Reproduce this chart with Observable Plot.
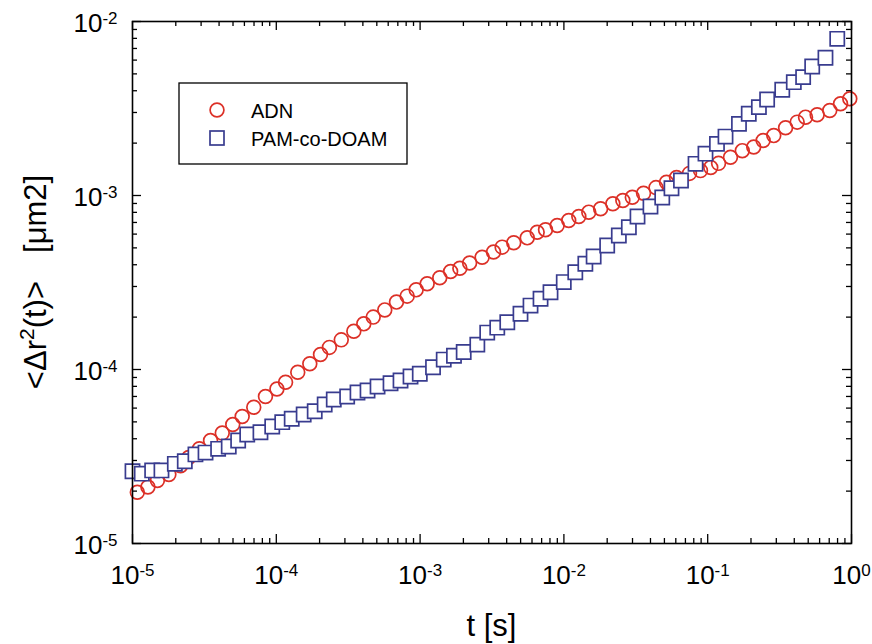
<!DOCTYPE html>
<html>
<head>
<meta charset="utf-8">
<script src="https://cdn.jsdelivr.net/npm/d3@7"></script>
<script src="https://cdn.jsdelivr.net/npm/@observablehq/plot@0.6"></script>
<style>
  html, body { margin: 0; padding: 0; background: #fff; }
  #chart { position: relative; width: 872px; height: 644px; }
</style>
</head>
<body>
<div id="chart"></div>
<script>
// ---- data ----
const adnT = [1.08e-5,1.28e-5,1.49e-5,1.79e-5,2.16e-5,2.46e-5,2.92e-5,3.49e-5,4.21e-5,4.98e-5,5.79e-5,6.97e-5,8.41e-5,1.01e-4,1.16e-4,1.41e-4,1.71e-4,2.03e-4,2.34e-4,2.83e-4,3.46e-4,4.06e-4,4.72e-4,5.68e-4,6.85e-4,8.13e-4,9.39e-4,1.12e-3,1.37e-3,1.63e-3,1.89e-3,2.21e-3,2.70e-3,3.24e-3,3.72e-3,4.48e-3,5.56e-3,6.52e-3,7.45e-3,8.98e-3,1.08e-2,1.27e-2,1.49e-2,1.80e-2,2.19e-2,2.57e-2,2.99e-2,3.58e-2,4.37e-2,5.17e-2,6.07e-2,7.47e-2,8.91e-2,0.105,0.119,0.144,0.174,0.209,0.243,0.288,0.348,0.419,0.479,0.577,0.706,0.839,0.973];
const adnMsd = [1.97e-5,2.11e-5,2.30e-5,2.49e-5,2.80e-5,3.12e-5,3.50e-5,3.91e-5,4.31e-5,4.83e-5,5.37e-5,6.07e-5,7.00e-5,7.73e-5,8.45e-5,9.65e-5,1.08e-4,1.22e-4,1.34e-4,1.48e-4,1.66e-4,1.83e-4,2.00e-4,2.20e-4,2.44e-4,2.64e-4,2.87e-4,3.11e-4,3.37e-4,3.66e-4,3.82e-4,4.09e-4,4.42e-4,4.73e-4,5.05e-4,5.35e-4,5.71e-4,6.15e-4,6.35e-4,6.73e-4,7.18e-4,7.57e-4,8.02e-4,8.39e-4,8.96e-4,9.36e-4,9.78e-4,1.03e-3,1.11e-3,1.19e-3,1.27e-3,1.34e-3,1.39e-3,1.45e-3,1.53e-3,1.66e-3,1.81e-3,1.90e-3,2.07e-3,2.21e-3,2.45e-3,2.64e-3,2.82e-3,2.91e-3,3.08e-3,3.37e-3,3.60e-3];
const pamT = [1.00e-5,1.16e-5,1.37e-5,1.59e-5,1.97e-5,2.31e-5,2.74e-5,3.22e-5,3.94e-5,4.67e-5,5.43e-5,6.28e-5,7.76e-5,9.37e-5,1.10e-4,1.28e-4,1.55e-4,1.85e-4,2.17e-4,2.51e-4,3.11e-4,3.67e-4,4.31e-4,5.06e-4,6.23e-4,7.31e-4,8.58e-4,9.95e-4,1.23e-3,1.46e-3,1.72e-3,2.01e-3,2.50e-3,2.93e-3,3.44e-3,4.04e-3,4.99e-3,5.86e-3,6.88e-3,8.07e-3,9.98e-3,1.20e-2,1.41e-2,1.61e-2,2.00e-2,2.41e-2,2.83e-2,3.25e-2,4.00e-2,4.83e-2,5.60e-2,6.52e-2,8.23e-2,9.65e-2,0.116,0.133,0.165,0.193,0.227,0.259,0.330,0.397,0.461,0.533,0.659,0.796];
const pamMsd = [2.60e-5,2.52e-5,2.63e-5,2.63e-5,2.87e-5,2.97e-5,3.25e-5,3.33e-5,3.50e-5,3.61e-5,3.91e-5,4.23e-5,4.36e-5,4.70e-5,4.98e-5,5.21e-5,5.51e-5,5.76e-5,6.29e-5,6.72e-5,7.00e-5,7.38e-5,7.57e-5,7.99e-5,8.34e-5,8.65e-5,9.12e-5,9.45e-5,1.03e-4,1.14e-4,1.20e-4,1.26e-4,1.39e-4,1.63e-4,1.74e-4,1.87e-4,2.09e-4,2.33e-4,2.55e-4,2.78e-4,3.18e-4,3.62e-4,4.05e-4,4.46e-4,5.16e-4,5.89e-4,6.57e-4,7.57e-4,8.65e-4,9.74e-4,1.10e-3,1.22e-3,1.52e-3,1.74e-3,1.98e-3,2.18e-3,2.58e-3,2.95e-3,3.22e-3,3.56e-3,4.05e-3,4.48e-3,4.79e-3,5.51e-3,6.19e-3,7.95e-3];

const seriesNames = ["ADN", "PAM-co-DOAM"];
const xMajor = [1e-5, 1e-4, 1e-3, 1e-2, 1e-1, 1e0];
const yMajor = [1e-5, 1e-4, 1e-3, 1e-2];
const minorMantissas = [2, 3, 4, 5, 6, 7, 8, 9];
const xLabel = "t [s]";

// ---- build tables ----
const adn = adnT.map((t, i) => ({t, msd: adnMsd[i]}));
const pam = pamT.map((t, i) => ({t, msd: pamMsd[i]}));
const xMinor = xMajor.slice(0, -1).flatMap(d => minorMantissas.map(m => m * d));
const yMinor = yMajor.slice(0, -1).flatMap(d => minorMantissas.map(m => m * d));

const W = 872, H = 644, mL = 132, mR = 21, mT = 21, mB = 101;
const fw = W - mL - mR, fh = H - mT - mB;
const RED = "#dc3027", BLUE = "#393c8f";
const FONT = "'Liberation Sans', Arial, Helvetica, sans-serif";
const majLen = 9, minLen = 5;
const fmt = d => "10^" + Math.round(Math.log10(d));
const tk = {stroke: "black", strokeWidth: 1.3};

const plot = Plot.plot({
  width: W, height: H,
  marginLeft: mL, marginRight: mR, marginTop: mT, marginBottom: mB,
  x: {type: "log", domain: [1e-5, 1]},
  y: {type: "log", domain: [1e-5, 1e-2]},
  style: {fontFamily: FONT, background: "white", color: "black", overflow: "visible"},
  marks: [
    // inward ticks on all four sides
    Plot.ruleX(xMajor, {x: d => d, insetTop: fh - majLen, ...tk}),
    Plot.ruleX(xMajor, {x: d => d, insetBottom: fh - majLen, ...tk}),
    Plot.ruleX(xMinor, {x: d => d, insetTop: fh - minLen, ...tk}),
    Plot.ruleX(xMinor, {x: d => d, insetBottom: fh - minLen, ...tk}),
    Plot.ruleY(yMajor, {y: d => d, insetRight: fw - majLen, ...tk}),
    Plot.ruleY(yMajor, {y: d => d, insetLeft: fw - majLen, ...tk}),
    Plot.ruleY(yMinor, {y: d => d, insetRight: fw - minLen, ...tk}),
    Plot.ruleY(yMinor, {y: d => d, insetLeft: fw - minLen, ...tk}),
    Plot.axisX({ticks: xMajor, tickSize: 0, tickPadding: 22, tickFormat: fmt, fontSize: 26, label: null}),
    Plot.axisY({ticks: yMajor, tickSize: 0, tickPadding: 15, tickFormat: fmt, fontSize: 26, label: null, dy: 2}),
    Plot.dot(adn, {x: "t", y: "msd", symbol: "circle", r: 6.9, stroke: RED, strokeWidth: 1.7, fill: "none"}),
    Plot.dot(pam, {x: "t", y: "msd", symbol: "square", r: 8.0, stroke: BLUE, strokeWidth: 1.7, fill: "white"}),
    Plot.frame({stroke: "black", strokeWidth: 1.6})
  ]
});

document.getElementById("chart").appendChild(plot);
const svg = d3.select(plot);

// superscript exponents on tick labels
svg.selectAll('g[aria-label="x-axis tick label"] text, g[aria-label="y-axis tick label"] text').each(function() {
  const s = this.textContent;
  const [base, exp] = s.split("^");
  const t = d3.select(this);
  t.text(null);
  t.append("tspan").text(base);
  t.append("tspan").attr("dy", -8).attr("font-size", 17).text(exp);
});

// axis titles
svg.append("text")
  .attr("x", mL + fw / 2).attr("y", 636)
  .attr("text-anchor", "middle").attr("font-size", 31).attr("font-family", FONT)
  .text(xLabel);

const yt = svg.append("text")
  .attr("transform", `translate(46,${mT + fh / 2}) rotate(-90)`)
  .attr("text-anchor", "middle").attr("font-size", 31).attr("font-family", FONT);
yt.append("tspan").text("<Δr");
yt.append("tspan").attr("font-size", 21).attr("dy", -12).text("2");
yt.append("tspan").attr("dy", 12).text("(t)>");
yt.append("tspan").attr("dx", 28).text("[μm2]");

// legend
const lg = svg.append("g").attr("font-family", FONT).attr("font-size", 20).attr("text-anchor", "start");
lg.append("rect").attr("x", 179).attr("y", 83).attr("width", 228).attr("height", 81)
  .attr("fill", "white").attr("stroke", "black").attr("stroke-width", 1.3);
lg.append("circle").attr("cx", 217).attr("cy", 110).attr("r", 6.9)
  .attr("fill", "none").attr("stroke", RED).attr("stroke-width", 1.7);
lg.append("text").attr("x", 251).attr("y", 118).text(seriesNames[0]);
lg.append("rect").attr("x", 210).attr("y", 131).attr("width", 14).attr("height", 14)
  .attr("fill", "white").attr("stroke", BLUE).attr("stroke-width", 1.7);
lg.append("text").attr("x", 251).attr("y", 146).text(seriesNames[1]);
</script>
</body>
</html>
